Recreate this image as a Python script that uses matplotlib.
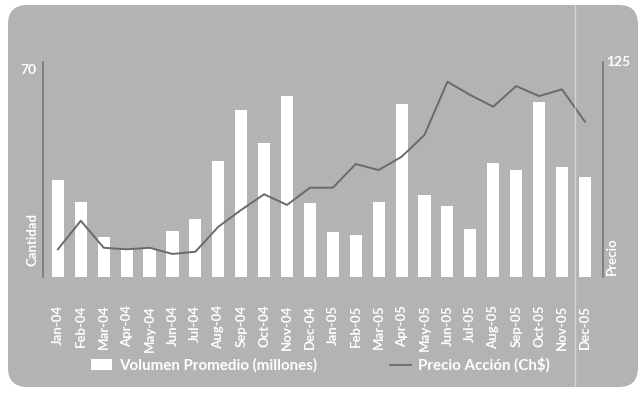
import matplotlib
matplotlib.use("Agg")
import matplotlib.pyplot as plt
from matplotlib.patches import FancyBboxPatch, Patch
from matplotlib.lines import Line2D

months = ["Jan-04", "Feb-04", "Mar-04", "Apr-04", "May-04", "Jun-04", "Jul-04", "Aug-04",
          "Sep-04", "Oct-04", "Nov-04", "Dec-04", "Jan-05", "Feb-05", "Mar-05", "Apr-05",
          "May-05", "Jun-05", "Jul-05", "Aug-05", "Sep-05", "Oct-05", "Nov-05", "Dec-05"]
volumen = [31.5, 24.4, 13.0, 8.8, 9.0, 15.1, 18.9, 37.7, 54.3, 43.7, 58.9, 24.1,
           14.5, 13.7, 24.3, 56.2, 26.8, 23.0, 15.6, 37.2, 35.0, 57.0, 35.7, 32.6]
precio = [16.1, 32.7, 17.0, 16.1, 17.0, 13.4, 14.7, 29.2, 39.0, 48.1, 41.9, 51.9,
          51.9, 65.7, 62.2, 69.9, 82.6, 113.5, 105.8, 99.0, 111.0, 105.2, 109.1, 90.3]
vol_max = 70
precio_max = 125

bg = "#b3b3b3"
axis_col = "#767676"
line_col = "#6a6a6a"
font = "Lato"

fig = plt.figure(figsize=(6.42, 3.93), dpi=100)
fig.patch.set_facecolor("white")
panel = FancyBboxPatch((8 / 642, 6 / 393), 630 / 642, 382 / 393,
                       boxstyle="round,pad=0,rounding_size=0.03",
                       transform=fig.transFigure, facecolor=bg, edgecolor="none",
                       mutation_aspect=642 / 393, zorder=0)
fig.add_artist(panel)

ax = fig.add_axes([43 / 642, 116 / 393, 560 / 642, 215 / 393])
ax.set_facecolor("none")
x = list(range(len(months)))
bars = ax.bar(x, volumen, width=0.53, color="white", edgecolor="none", zorder=2,
              label="Volumen Promedio (millones)")
ax.set_ylim(0, vol_max)
ax.set_xlim(-0.65, len(months) - 1 + 0.79)

ax2 = ax.twinx()
ln, = ax2.plot(x, precio, color=line_col, lw=1.4, zorder=3, label="Precio Acción (Ch$)")
ax2.set_ylim(0, precio_max)

for a in (ax, ax2):
    for s in a.spines.values():
        s.set_visible(False)
    a.tick_params(length=0)
ax.spines["left"].set_visible(True)
ax.spines["left"].set_color(axis_col)
ax.spines["left"].set_linewidth(1.2)
ax2.spines["right"].set_visible(True)
ax2.spines["right"].set_color(axis_col)
ax2.spines["right"].set_linewidth(1.2)
ax.set_yticks([])
ax2.set_yticks([])
ax.set_xticks(x)
ax.set_xticklabels(months, rotation=90, color="white", fontsize=9.5,
                   fontfamily=font, fontweight="bold")
ax.tick_params(axis="x", pad=20)

ax.text(-0.012, 0.99, "70", transform=ax.transAxes, ha="right", va="top",
        color="white", fontsize=10, fontfamily=font, fontweight="bold")
ax2.text(1.005, 1.0, "125", transform=ax2.transAxes, ha="left", va="center",
         color="white", fontsize=10, fontfamily=font, fontweight="bold")
ax.text(-0.018, 0.05, "Cantidad", transform=ax.transAxes, rotation=90, ha="center",
        va="bottom", color="white", fontsize=9.5, fontfamily=font, fontweight="bold")
ax2.text(1.016, 0.01, "Precio", transform=ax2.transAxes, rotation=90, ha="center",
         va="bottom", color="white", fontsize=9.5, fontfamily=font, fontweight="bold")

handles = [Patch(facecolor="white", edgecolor="none"),
           Line2D([0], [0], color=line_col, lw=1.3)]
labels = ["Volumen Promedio (millones)", "Precio Acción (Ch$)"]
leg = fig.legend(handles, labels, loc="center", bbox_to_anchor=(0.499, 0.071), ncol=2,
                 frameon=False, handlelength=1.4, handletextpad=0.45, columnspacing=4.8,
                 prop={"family": font, "weight": "bold", "size": 10.9})
for t in leg.get_texts():
    t.set_color("white")

# faint fold line from the scanned page
fig.add_artist(Line2D([575 / 642, 575 / 642], [6 / 393, 388 / 393], color="white",
                      alpha=0.45, lw=1.0, transform=fig.transFigure))

fig.savefig("out.png", dpi=100, facecolor="white")
